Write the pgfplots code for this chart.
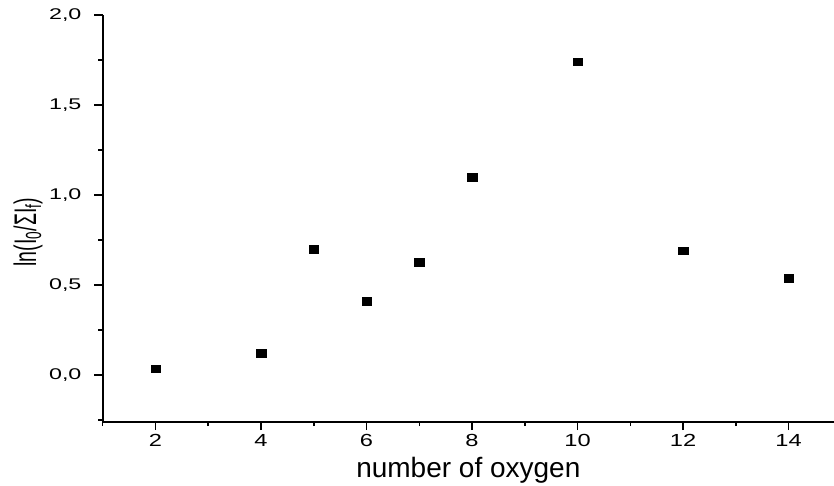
\documentclass[border=0pt]{standalone}
\usepackage{fontspec}
\setmainfont{Liberation Sans}
\usepackage{pgfplots}
\pgfplotsset{compat=1.18}
\begin{document}
\begin{tikzpicture}
\begin{axis}[
  scale only axis,
  width=731.3pt, height=406.7pt,
  xmin=1, xmax=14.86,
  ymin=-0.26, ymax=2.0,
  axis x line*=bottom,
  axis y line*=left,
  axis line style={line width=1.8pt},
  xtick={2,4,...,14},
  minor xtick={1,3,...,13},
  ytick={0,0.5,...,2.0},
  minor ytick={-0.25,0.25,...,1.75},
  tick align=outside,
  major tick length=8.5pt,
  minor tick length=4.5pt,
  every tick/.style={black, line width=1.5pt},
  every minor tick/.style={black, line width=1.5pt},
  /pgf/number format/assume math mode=true,
  xticklabel style={font=\fontsize{17.5}{17.5}\selectfont, xscale=1.35, yshift=-1pt},
  yticklabel style={font=\fontsize{15.5}{15.5}\selectfont, xscale=1.5, xshift=-5pt,
    /pgf/number format/.cd, use comma, fixed, fixed zerofill, precision=1},
  xlabel={number of oxygen},
  every axis x label/.style={at={(axis description cs:0.5,-0.136)}, anchor=base,
    font=\fontsize{28}{28}\selectfont},
  ylabel={\scalebox{1}[1.6]{ln(I\textsubscript{0}/ΣI\textsubscript{f})}},
  every axis y label/.style={at={(axis description cs:-0.102,0.466)}, rotate=90,
    anchor=center, font=\fontsize{19.5}{19.5}\selectfont},
  clip=false,
]
% measured values, one square per oxygen count
\addplot[only marks, mark=square*, mark size=3.8pt, black,
  mark options={xscale=1.25}] coordinates {
  (2,0.035) (4,0.12) (5,0.70) (6,0.41) (7,0.625)
  (8,1.10) (10,1.74) (12,0.69) (14,0.537)
};
\coordinate (ll) at (rel axis cs:0,0);
\coordinate (ur) at (rel axis cs:1,1);
\end{axis}
\pgfresetboundingbox
\path[use as bounding box] ([shift={(-102.7pt,-64.3pt)}]ll) rectangle ([shift={(0pt,15pt)}]ur);
\end{tikzpicture}
\end{document}
